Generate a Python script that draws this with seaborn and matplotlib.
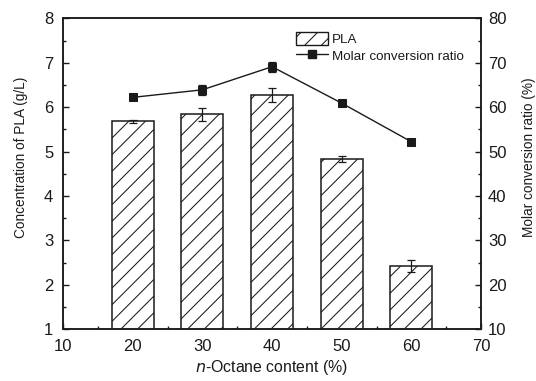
import matplotlib
matplotlib.use("Agg")
import matplotlib.pyplot as plt
import seaborn as sns
import pandas as pd
from matplotlib.ticker import MultipleLocator
from matplotlib.patches import Patch
from matplotlib.lines import Line2D

# n-octane content (%) and measured responses
octane = [20, 30, 40, 50, 60]
pla_conc = [5.68, 5.84, 6.28, 4.83, 2.43]
pla_err = [0.04, 0.15, 0.16, 0.07, 0.14]
molar_ratio = [62.2, 63.9, 69.1, 60.9, 52.2]
molar_err = [0.5, 1.1, 1.1, 0.4, 0.3]

sns.set_style("ticks")
plt.rcParams["font.family"] = ["Liberation Sans", "DejaVu Sans"]
plt.rcParams["hatch.linewidth"] = 0.75
ink = "#1a1a1a"
tick_fs = 12
hatch = "//"

df = pd.DataFrame({"octane": octane, "pla": pla_conc, "ratio": molar_ratio})

fig = plt.figure(figsize=(5.36, 3.81), dpi=100)
ax = fig.add_axes([0.1175, 0.1357, 0.78, 0.8163])

sns.barplot(data=df, x="octane", y="pla", native_scale=True, width=0.6,
            errorbar=None, color="white", edgecolor=ink, linewidth=1.1,
            hatch=hatch, ax=ax)
ax.errorbar(octane, pla_conc, yerr=pla_err, fmt="none", ecolor=ink,
            elinewidth=0.9, capsize=2.6, capthick=0.9)

ax.set_xlim(10, 70)
ax.set_ylim(1, 8)
ax.xaxis.set_major_locator(MultipleLocator(10))
ax.xaxis.set_minor_locator(MultipleLocator(5))
ax.yaxis.set_major_locator(MultipleLocator(1))
ax.yaxis.set_minor_locator(MultipleLocator(0.5))
ax.tick_params(which="both", direction="in", top=False, right=False,
               colors=ink, labelsize=tick_fs, width=1.0)
ax.tick_params(which="major", length=4)
ax.tick_params(which="minor", length=2.5)
ax.tick_params(axis="y", pad=7)
ax.tick_params(axis="x", pad=7)
ax.set_xlabel("$\\it{n}$-Octane content (%)", fontsize=11.4, color=ink,
              labelpad=3)
ax.set_ylabel("Concentration of PLA (g/L)", fontsize=9.8, color=ink)
ax.yaxis.set_label_coords(-0.084, 0.552)
for s in ax.spines.values():
    s.set_color(ink)
    s.set_linewidth(1.1)

ax2 = ax.twinx()
sns.lineplot(data=df, x="octane", y="ratio", color=ink, marker="s",
             markersize=5.5, markeredgecolor=ink, linewidth=1.0, ax=ax2)
ax2.errorbar(octane, molar_ratio, yerr=molar_err, fmt="none", ecolor=ink,
             elinewidth=0.9, capsize=2.6, capthick=0.9)
ax2.set_ylim(10, 80)
ax2.yaxis.set_major_locator(MultipleLocator(10))
ax2.yaxis.set_minor_locator(MultipleLocator(5))
ax2.tick_params(which="both", direction="in", colors=ink,
                labelsize=tick_fs, width=1.0, pad=5)
ax2.tick_params(which="major", length=4)
ax2.tick_params(which="minor", length=2.5)
ax2.set_ylabel("Molar conversion ratio (%)", fontsize=9.8, color=ink)
ax2.yaxis.set_label_coords(1.097, 0.552)
for s in ax2.spines.values():
    s.set_color(ink)
    s.set_linewidth(1.1)

handles = [
    Patch(facecolor="white", edgecolor=ink, hatch=hatch, linewidth=1.0),
    Line2D([], [], color=ink, marker="s", markersize=5.5, linewidth=1.0),
]
fig.legend(handles, ["PLA", "Molar conversion ratio"], loc="upper left",
           bbox_to_anchor=(287 / 536, 1 - 23 / 381), frameon=False,
           fontsize=9.6, handlelength=2.4, handleheight=1.1,
           handletextpad=0.25, labelspacing=0.2, borderpad=0.2,
           labelcolor=ink)

fig.savefig("out.png", dpi=100)
